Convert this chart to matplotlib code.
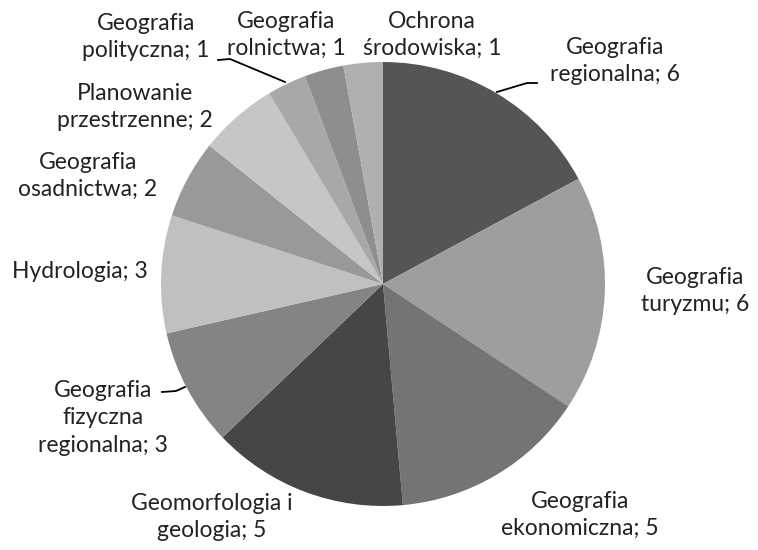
import matplotlib
matplotlib.use("Agg")
import matplotlib.pyplot as plt

labels = ["Geografia\nregionalna; 6", "Geografia\nturyzmu; 6", "Geografia\nekonomiczna; 5",
          "Geomorfologia i\ngeologia; 5", "Geografia\nfizyczna\nregionalna; 3", "Hydrologia; 3",
          "Geografia\nosadnictwa; 2", "Planowanie\nprzestrzenne; 2", "Geografia\npolityczna; 1",
          "Geografia\nrolnictwa; 1", "Ochrona\nśrodowiska; 1"]
values = [6, 6, 5, 5, 3, 3, 2, 2, 1, 1, 1]
colors = ["#555555", "#9e9e9e", "#747474", "#464646", "#848484", "#c0c0c0",
          "#999999", "#c6c6c6", "#a8a8a8", "#8e8e8e", "#b0b0b0"]

# label centres in pixels of the 758x550 figure
label_px = [(615, 61), (695, 291), (580, 515), (212, 517), (103, 418), (80, 272),
            (88, 176), (135, 107), (146, 37), (286, 35), (432, 35)]
# leader lines (pixel coords) for the labels that have one
leaders = {0: [(497, 92), (527, 83), (537, 83)],
           8: [(218, 60), (230, 59), (285, 82)],
           4: [(162, 392), (176, 391), (185, 387)]}

plt.rcParams["font.family"] = ["Lato", "DejaVu Sans"]
W, H = 758, 550
CX, CY, R = 383, 284, 222
fig = plt.figure(figsize=(W / 100, H / 100), dpi=100)
ax = fig.add_axes([(CX - R) / W, (H - CY - R) / H, 2 * R / W, 2 * R / H])
ax.pie(values, colors=colors, startangle=90, counterclock=False, radius=1,
       wedgeprops=dict(linewidth=0))
ax.set_xlim(-1, 1)
ax.set_ylim(-1, 1)
ax.set_aspect("equal")
ax.axis("off")


def to_data(px, py):
    return (px - CX) / R, (CY - py) / R


for lab, (px, py) in zip(labels, label_px):
    x, y = to_data(px, py)
    ax.text(x, y, lab, ha="center", va="center", fontsize=16.5, color="#222222",
            linespacing=1.38, clip_on=False)

for pts in leaders.values():
    xs, ys = zip(*[to_data(px, py) for px, py in pts])
    ax.plot(xs, ys, color="black", lw=1.3, clip_on=False)

fig.savefig("out.png", dpi=100)
